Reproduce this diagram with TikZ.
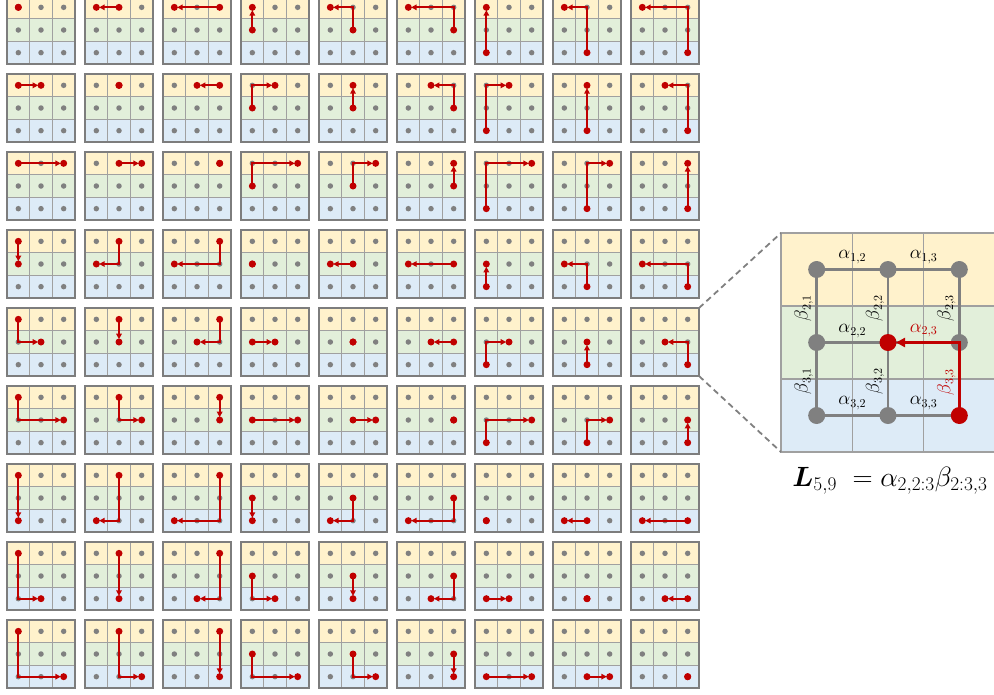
\documentclass[tikz,border=0pt]{standalone}
\usepackage{graphicx}
\usepackage{bm}
\DeclareMathSizes{17.28}{17.28}{10.95}{8}
\DeclareMathSizes{24.88}{24.88}{17.28}{12}
\newcommand{\labtxt}[1]{\scalebox{1.1}{\fontsize{17.28}{20}\selectfont$#1$}}
\newcommand{\captxt}[1]{\scalebox{1.12}{\fontsize{24.88}{29}\selectfont$#1$}}
\usetikzlibrary{arrows.meta,calc}
\definecolor{cyel}{RGB}{255,242,204}
\definecolor{cgrn}{RGB}{226,239,218}
\definecolor{cblu}{RGB}{221,235,247}
\definecolor{cred}{RGB}{192,0,0}
\definecolor{cdot}{RGB}{128,128,128}
\definecolor{cgrid}{RGB}{160,160,160}
\definecolor{cbord}{RGB}{125,125,125}
\begin{document}
\begin{tikzpicture}[x=1pt,y=-1pt,
  cellline/.style={draw=cgrid, line width=0.8pt},
  border/.style={draw=cbord, line width=2pt},
  gdot/.style={circle, fill=cdot, inner sep=0pt, minimum size=5.5pt},
  rdot/.style={circle, fill=cred, inner sep=0pt, minimum size=7pt},
  rpath/.style={draw=cred, line width=1.8pt, -{Triangle[length=5.5pt,width=5.5pt]}, shorten >=2.8pt},
  zdot/.style={circle, fill=cdot, inner sep=0pt, minimum size=17pt},
  zrdot/.style={circle, fill=cred, inner sep=0pt, minimum size=17pt},
  zedge/.style={draw=cdot, line width=2.7pt},
  zpath/.style={draw=cred, line width=2.7pt, -{Triangle[length=9pt,width=9pt]}, shorten >=8pt},
  lab/.style={inner sep=0pt},
  captext/.style={inner sep=0pt},
  zoomline/.style={draw=cdot, line width=1.8pt, dash pattern=on 6pt off 4pt},
]
\useasboundingbox (0,0) rectangle (994,694);
\foreach \r in {1,...,9}{
 \foreach \c in {1,...,9}{
  \pgfmathsetmacro\xo{7+78*(\c-1)}
  \pgfmathsetmacro\yo{-4+78*(\r-1)}
  \pgfmathtruncatemacro\ri{int((\r-1)/3)+1}
  \pgfmathtruncatemacro\ci{mod(\r-1,3)+1}
  \pgfmathtruncatemacro\rj{int((\c-1)/3)+1}
  \pgfmathtruncatemacro\cj{mod(\c-1,3)+1}
  \begin{scope}[shift={(\xo,\yo)}]
   \fill[cyel] (0,0) rectangle (68,22.667);
   \fill[cgrn] (0,22.667) rectangle (68,45.333);
   \fill[cblu] (0,45.333) rectangle (68,68);
   \draw[cellline] (22.667,0) -- (22.667,68) (45.333,0) -- (45.333,68)
                   (0,22.667) -- (68,22.667) (0,45.333) -- (68,45.333);
   \draw[border] (0,0) rectangle (68,68);
   \coordinate (P-\r-\c-ne) at (68,0);
   \coordinate (P-\r-\c-se) at (68,68);
   \foreach \a in {1,2,3}{\foreach \b in {1,2,3}{
     \node[gdot] (g-\r-\c-\a-\b) at ({22.667*(\b-0.5)},{22.667*(\a-0.5)}) {};
   }}
   \coordinate (s-\r-\c) at ({22.667*(\cj-0.5)},{22.667*(\rj-0.5)});
   \coordinate (t-\r-\c) at ({22.667*(\ci-0.5)},{22.667*(\ri-0.5)});
   \coordinate (k-\r-\c) at ({22.667*(\cj-0.5)},{22.667*(\ri-0.5)});
   \ifnum\r=\c\relax
   \else
     \ifnum\ci=\cj\relax
       \draw[rpath] (s-\r-\c) -- (t-\r-\c);
     \else
       \ifnum\ri=\rj\relax
         \draw[rpath] (s-\r-\c) -- (t-\r-\c);
       \else
         \draw[rpath] (s-\r-\c) -- (k-\r-\c) -- (t-\r-\c);
       \fi
     \fi
   \fi
   \node[rdot] (rs-\r-\c) at (s-\r-\c) {};
   \node[rdot] (rt-\r-\c) at (t-\r-\c) {};
  \end{scope}
 }
}
% zoomed panel
\begin{scope}[shift={(781,233)}]
 \fill[cyel] (0,0) rectangle (214,73);
 \fill[cgrn] (0,73) rectangle (214,146);
 \fill[cblu] (0,146) rectangle (214,219);
 \draw[draw=cgrid, line width=1.2pt] (71.33,0) -- (71.33,219) (142.67,0) -- (142.67,219)
   (0,73) -- (214,73) (0,146) -- (214,146);
 \draw[draw=cgrid, line width=1.5pt] (0,0) rectangle (214,219);
 \coordinate (Z-nw) at (0,0);
 \coordinate (Z-sw) at (0,219);
 \foreach \a in {1,2,3}{\foreach \b in {1,2,3}{
   \coordinate (z\a\b) at ({71.33*(\b-0.5)},{73*(\a-0.5)});
 }}
 \draw[zedge] (z11) -- (z13) (z21) -- (z23) (z31) -- (z33)
              (z11) -- (z31) (z12) -- (z32) (z13) -- (z33);
 \foreach \a/\b in {1/1,1/2,1/3,2/1,2/3,3/1,3/2}{
   \node[zdot] (zd\a\b) at (z\a\b) {};
 }
 \draw[zpath] (z33) -- (z23) -- (z22);
 \node[zrdot] (zd22) at (z22) {};
 \node[zrdot] (zd33) at (z33) {};
 % labels
 \node[lab] (la12) at ($(z11)!0.5!(z12)+(0,-12.5)$) {\labtxt{\alpha_{1,2}}};
 \node[lab] (la13) at ($(z12)!0.5!(z13)+(0,-12.5)$) {\labtxt{\alpha_{1,3}}};
 \node[lab] (la22) at ($(z21)!0.5!(z22)+(0,-11.5)$) {\labtxt{\alpha_{2,2}}};
 \node[lab, text=cred] (la23) at ($(z22)!0.5!(z23)+(0,-12)$) {\labtxt{\alpha_{2,3}}};
 \node[lab] (la32) at ($(z31)!0.5!(z32)+(0,-12.5)$) {\labtxt{\alpha_{3,2}}};
 \node[lab] (la33) at ($(z32)!0.5!(z33)+(0,-12.5)$) {\labtxt{\alpha_{3,3}}};
 \node[lab, rotate=90] (lb21) at ($(z11)!0.5!(z21)+(-13,2)$) {\labtxt{\beta_{2,1}}};
 \node[lab, rotate=90] (lb22) at ($(z12)!0.5!(z22)+(-13,2)$) {\labtxt{\beta_{2,2}}};
 \node[lab, rotate=90] (lb23) at ($(z13)!0.5!(z23)+(-13,2)$) {\labtxt{\beta_{2,3}}};
 \node[lab, rotate=90] (lb31) at ($(z21)!0.5!(z31)+(-13,2)$) {\labtxt{\beta_{3,1}}};
 \node[lab, rotate=90] (lb32) at ($(z22)!0.5!(z32)+(-13,2)$) {\labtxt{\beta_{3,2}}};
 \node[lab, rotate=90, text=cred] (lb33) at ($(z23)!0.5!(z33)+(-13,3)$) {\labtxt{\beta_{3,3}}};
\end{scope}
\draw[zoomline] (P-5-9-ne) -- (Z-nw);
\draw[zoomline] (P-5-9-se) -- (Z-sw);
\node[captext] (caption) at (890,481) {\captxt{\bm{L}_{5,9}\;=\alpha_{2,2:3}\beta_{2:3,3}}};
\end{tikzpicture}
\end{document}
